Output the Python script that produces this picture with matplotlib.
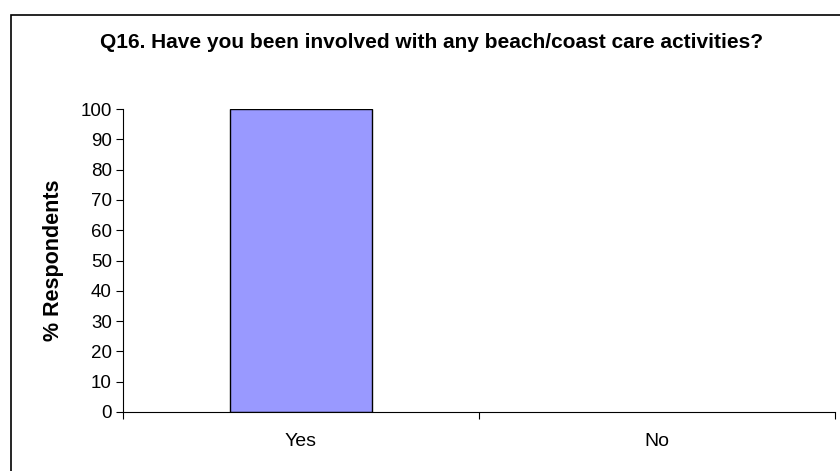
import matplotlib.pyplot as plt
from matplotlib.patches import Rectangle

categories = ['Yes', 'No']
values = [100, 0]
y_ticks = [0, 10, 20, 30, 40, 50, 60, 70, 80, 90, 100]

plt.rcParams['font.family'] = ['Liberation Sans', 'DejaVu Sans']

fig = plt.figure(figsize=(8.4, 4.71), dpi=100)
ax = fig.add_axes([123 / 840, 1 - 412 / 471, 712 / 840, 303 / 471])

# chart frame (cut off at the right and bottom like the original)
fig.patches.append(Rectangle((11 / 840, -0.05), 1.0, 1 - 15 / 471 + 0.05,
                             transform=fig.transFigure, fill=False,
                             edgecolor='black', linewidth=1.2))

x = range(len(categories))
# zero-height bars are not drawn in the original
lw = [1.0 if v > 0 else 0 for v in values]
ax.bar([i + 0.5 for i in x], values, width=0.4, color='#9999FF',
       edgecolor='black', linewidth=lw)

ax.set_xlim(0, len(categories))
ax.set_ylim(0, 100)
ax.set_yticks(y_ticks)
ax.set_xticks([0, 1, 2])
ax.set_xticklabels([])
ax.set_xticks([i + 0.5 for i in x], minor=True)
ax.set_xticklabels(categories, minor=True, fontsize=14)
ax.tick_params(axis='x', which='minor', length=0, pad=15)
ax.tick_params(axis='x', which='major', length=5, width=0.8, direction='out')
ax.tick_params(axis='y', length=5, width=0.8, direction='out', labelsize=13.5, pad=3)

for s in ['top', 'right']:
    ax.spines[s].set_visible(False)
ax.spines['left'].set_linewidth(0.8)
ax.spines['bottom'].set_linewidth(0.8)

ax.set_ylabel('% Respondents', fontsize=15.5, fontweight='bold', labelpad=12)
fig.text(432 / 840, 1 - 43 / 471, 'Q16. Have you been involved with any beach/coast care activities?',
         ha='center', va='center', fontsize=15, fontweight='bold')

fig.savefig('out.png', dpi=100)
